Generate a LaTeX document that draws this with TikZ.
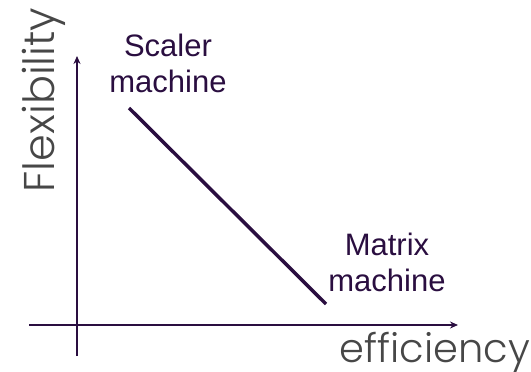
\documentclass[tikz,border=0pt]{standalone}
\usepackage{fontspec}
\setmainfont{Liberation Sans}
\newfontfamily\lightfont{Poppins Light}
\usetikzlibrary{arrows.meta}
\definecolor{ink}{HTML}{2A0E40}
\definecolor{axgray}{HTML}{474747}
\tikzset{
  axis/.style={draw=ink, line width=1.6pt, -{Stealth[length=8pt,width=7pt]}},
  trend/.style={draw=ink, line width=3.5pt},
  lab/.style={text=ink, font=\fontsize{31}{36}\selectfont, align=center, inner sep=0pt},
  axlab/.style={text=axgray, font=\lightfont\fontsize{40}{46}\selectfont, inner sep=0pt}
}
\begin{document}
\begin{tikzpicture}[x=1pt,y=-1pt]
\useasboundingbox (0,0) rectangle (531,372);
\coordinate (ybot) at (77,356);
\coordinate (ytop) at (77,56);
\coordinate (xleft) at (29,325);
\coordinate (xright) at (458,325);
\draw[axis] (ybot) -- (ytop);
\draw[axis] (xleft) -- (xright);
\coordinate (p1) at (129,108);
\coordinate (p2) at (326,304);
\draw[trend] (p1) -- (p2);
\node[lab, anchor=center] (scaler) at (168,63) {Scaler\\machine};
\node[lab, anchor=center] (matrix) at (387,262) {Matrix\\machine};
\node[axlab, anchor=base] (eff) at (435,362) {efficiency};
\node[axlab, anchor=base, font=\lightfont\fontsize{43}{48}\selectfont, rotate=90] (flex) at (54,100) {Flexibility};
\end{tikzpicture}
\end{document}
